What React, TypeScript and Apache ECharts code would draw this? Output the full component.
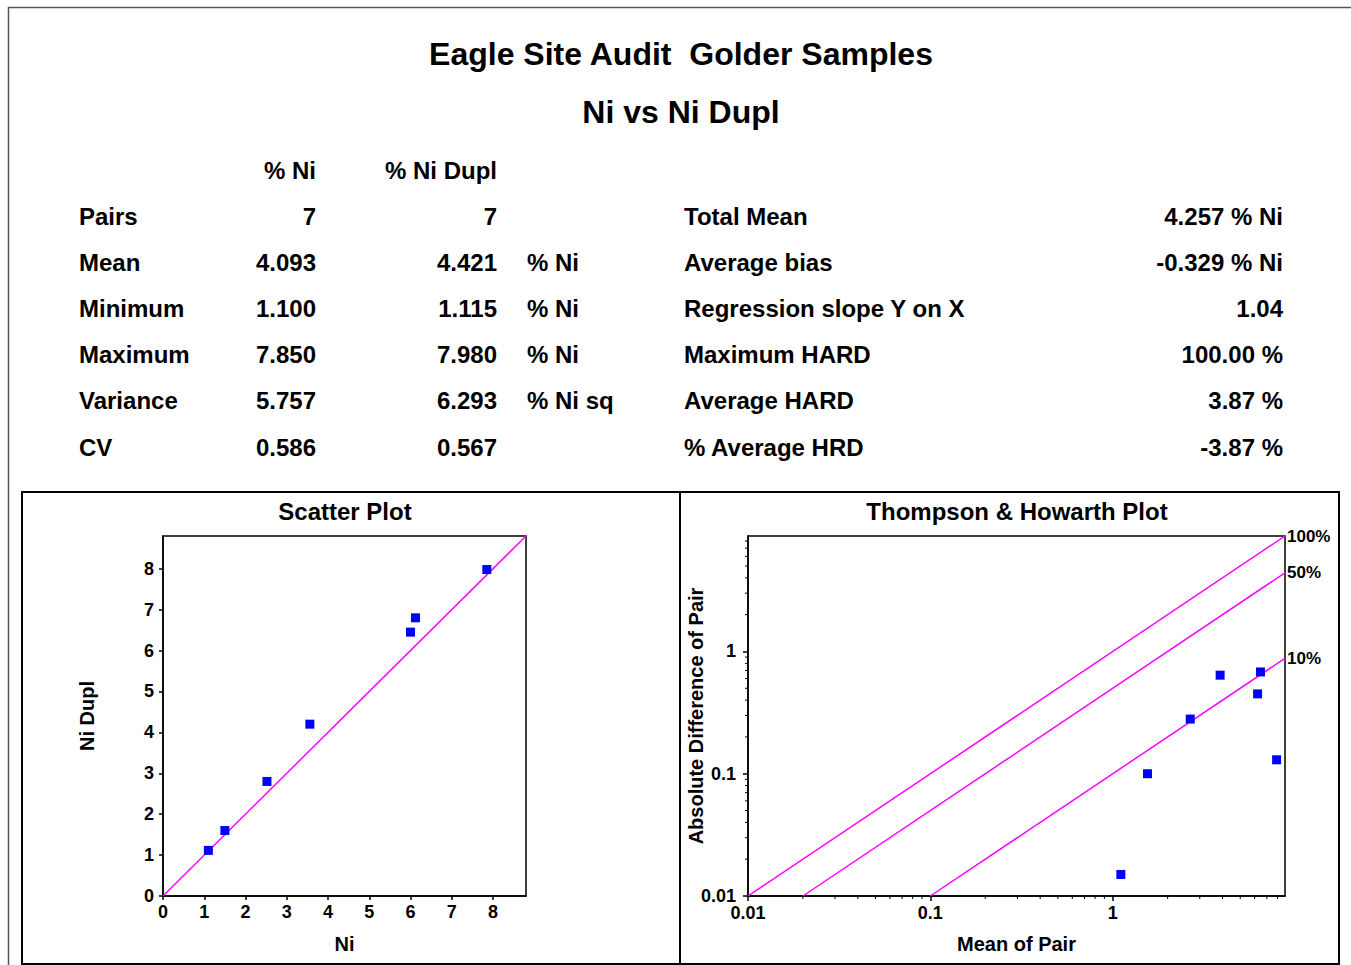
import React, { useEffect, useRef } from "react";
import * as echarts from "echarts";

// ---------- text content ----------
const mainTitle = "Eagle Site Audit  Golder Samples";
const subTitle = "Ni vs Ni Dupl";
const colHeaders = ["% Ni", "% Ni Dupl"];
const rowLabels = ["Pairs", "Mean", "Minimum", "Maximum", "Variance", "CV"];
const niStats = ["7", "4.093", "1.100", "7.850", "5.757", "0.586"];
const duplStats = ["7", "4.421", "1.115", "7.980", "6.293", "0.567"];
const unitLabels = ["", "% Ni", "% Ni", "% Ni", "% Ni sq", ""];
const summaryLabels = [
  "Total Mean",
  "Average bias",
  "Regression slope Y on X",
  "Maximum HARD",
  "Average HARD",
  "% Average HRD",
];
const summaryValues = ["4.257 % Ni", "-0.329 % Ni", "1.04", "100.00 %", "3.87 %", "-3.87 %"];

// ---------- scatter plot data ----------
const ni = [1.1, 1.5, 2.52, 3.56, 6.0, 6.12, 7.85];
const niDupl = [1.115, 1.6, 2.8, 4.2, 6.45, 6.8, 7.98];
const scatterTicks = [0, 1, 2, 3, 4, 5, 6, 7, 8];
const scatterMax = 8.8;
const oneToOne = [
  [0, 0],
  [8.8, 8.8],
];

// ---------- Thompson & Howarth data ----------
const pairMean = [1.1075, 1.55, 2.66, 3.88, 6.225, 6.46, 7.915];
const pairDiff = [0.015, 0.1, 0.28, 0.64, 0.45, 0.68, 0.13];
const thMin = 0.01;
const thMax = 8.8;
const thMajorTicks = [0.01, 0.1, 1];
const thMajorLabels = ["0.01", "0.1", "1"];
const thMinorTicks = [
  0.02, 0.03, 0.04, 0.05, 0.06, 0.07, 0.08, 0.09,
  0.2, 0.3, 0.4, 0.5, 0.6, 0.7, 0.8, 0.9,
  2, 3, 4, 5, 6, 7, 8,
];
const line100 = [
  [0.01, 0.01],
  [8.8, 8.8],
];
const line50 = [
  [0.02, 0.01],
  [8.8, 4.4],
];
const line10 = [
  [0.1, 0.01],
  [8.8, 0.88],
];
const precisionLabels = ["100%", "50%", "10%"];

const FONT = "Liberation Sans";
const font = (size: number) => `bold ${size}px "${FONT}"`;

function txt(text: string, x: number, y: number, size: number, align = "left") {
  return {
    type: "text",
    x,
    y,
    style: {
      text,
      font: font(size),
      fill: "#000",
      textAlign: align,
      textVerticalAlign: "middle",
    },
  };
}

export default function App() {
  const ref = useRef<HTMLDivElement>(null);

  useEffect(() => {
    if (!ref.current) return;
    const chart = echarts.init(ref.current, null, { renderer: "svg" });

    const rowY = (i: number) => 216 + i * 46.2;
    const graphics: any[] = [
      {
        type: "rect",
        shape: { x: 8.5, y: 7.5, width: 1400, height: 1000 },
        style: { fill: "none", stroke: "#555", lineWidth: 1.5 },
        silent: true,
      },
      {
        type: "rect",
        shape: { x: 22, y: 492, width: 658, height: 472 },
        style: { fill: "none", stroke: "#000", lineWidth: 2 },
        silent: true,
      },
      {
        type: "rect",
        shape: { x: 680, y: 492, width: 659, height: 472 },
        style: { fill: "none", stroke: "#000", lineWidth: 2 },
        silent: true,
      },
      txt(mainTitle, 681, 54, 32, "center"),
      txt(subTitle, 681, 112, 32, "center"),
      txt(colHeaders[0], 316, 170, 24, "right"),
      txt(colHeaders[1], 497, 170, 24, "right"),
      txt("Scatter Plot", 345, 511, 24, "center"),
      txt("Thompson & Howarth Plot", 1017, 511, 24, "center"),
    ];
    rowLabels.forEach((l, i) => {
      graphics.push(txt(l, 79, rowY(i), 24, "left"));
      graphics.push(txt(niStats[i], 316, rowY(i), 24, "right"));
      graphics.push(txt(duplStats[i], 497, rowY(i), 24, "right"));
      if (unitLabels[i]) graphics.push(txt(unitLabels[i], 527, rowY(i), 24, "left"));
      graphics.push(txt(summaryLabels[i], 684, rowY(i), 24, "left"));
      graphics.push(txt(summaryValues[i], 1283, rowY(i), 24, "right"));
    });

    const axisLineStyle = { color: "#000", width: 1.5 };
    const tickLabel = { color: "#000", fontFamily: FONT, fontWeight: "bold", fontSize: 18 };
    const nameStyle = { color: "#000", fontFamily: FONT, fontWeight: "bold", fontSize: 20 };
    const thLabelFormatter = (v: number) =>
      thMajorLabels[thMajorTicks.findIndex((t) => Math.abs(t - v) < 1e-9)] ?? "";

    const lineSeries = (data: number[][], label: string) => ({
      type: "line",
      xAxisIndex: 1,
      yAxisIndex: 1,
      data,
      symbol: "none",
      lineStyle: { color: "#ff00ff", width: 1.5 },
      endLabel: {
        show: true,
        formatter: label,
        distance: 2,
        color: "#000",
        fontFamily: FONT,
        fontWeight: "bold",
        fontSize: 17,
      },
      z: 2,
    });

    const option: any = {
      animation: false,
      backgroundColor: "#fff",
      graphic: graphics,
      grid: [
        {
          left: 163,
          top: 536,
          width: 363,
          height: 360,
          show: true,
          borderColor: "#000",
          borderWidth: 1.5,
          backgroundColor: "transparent",
        },
        {
          left: 748,
          top: 536,
          width: 537,
          height: 360,
          show: true,
          borderColor: "#000",
          borderWidth: 1.5,
          backgroundColor: "transparent",
        },
      ],
      xAxis: [
        {
          type: "value",
          gridIndex: 0,
          min: 0,
          max: scatterMax,
          name: "Ni",
          nameLocation: "middle",
          nameGap: 38,
          nameMoveOverlap: false,
          nameTextStyle: nameStyle,
          axisLine: { show: true, onZero: false, lineStyle: axisLineStyle },
          axisTick: { show: true, length: 4, customValues: scatterTicks, lineStyle: axisLineStyle },
          axisLabel: { ...tickLabel, margin: 7, customValues: scatterTicks },
          splitLine: { show: false },
        },
        {
          type: "log",
          gridIndex: 1,
          min: thMin,
          max: thMax,
          name: "Mean of Pair",
          nameLocation: "middle",
          nameGap: 38,
          nameMoveOverlap: false,
          nameTextStyle: nameStyle,
          axisLine: { show: true, onZero: false, lineStyle: axisLineStyle },
          axisTick: { show: true, length: 5, customValues: thMajorTicks, lineStyle: axisLineStyle },
          axisLabel: {
            ...tickLabel,
            margin: 8,
            customValues: thMajorTicks,
            formatter: thLabelFormatter,
          },
          splitLine: { show: false },
        },
      ],
      yAxis: [
        {
          type: "value",
          gridIndex: 0,
          min: 0,
          max: scatterMax,
          name: "Ni Dupl",
          nameLocation: "middle",
          nameGap: 66,
          nameMoveOverlap: false,
          nameTextStyle: nameStyle,
          axisLine: { show: true, onZero: false, lineStyle: axisLineStyle },
          axisTick: { show: true, length: 4, customValues: scatterTicks, lineStyle: axisLineStyle },
          axisLabel: { ...tickLabel, margin: 9, customValues: scatterTicks },
          splitLine: { show: false },
        },
        {
          type: "log",
          gridIndex: 1,
          min: thMin,
          max: thMax,
          name: "Absolute Difference of Pair",
          nameLocation: "middle",
          nameGap: 42,
          nameMoveOverlap: false,
          nameTextStyle: nameStyle,
          axisLine: { show: true, onZero: false, lineStyle: axisLineStyle },
          axisTick: { show: true, length: 5, customValues: thMajorTicks, lineStyle: axisLineStyle },
          axisLabel: {
            ...tickLabel,
            margin: 12,
            customValues: thMajorTicks,
            formatter: thLabelFormatter,
          },
          splitLine: { show: false },
        },
      ],
      series: [
        {
          type: "line",
          xAxisIndex: 0,
          yAxisIndex: 0,
          data: oneToOne,
          symbol: "none",
          lineStyle: { color: "#ff00ff", width: 1.5 },
          z: 2,
        },
        {
          type: "scatter",
          xAxisIndex: 0,
          yAxisIndex: 0,
          data: ni.map((x, i) => [x, niDupl[i]]),
          symbol: "rect",
          symbolSize: 9,
          itemStyle: { color: "#0000ff", opacity: 1 },
          z: 3,
        },
        lineSeries(line100, precisionLabels[0]),
        lineSeries(line50, precisionLabels[1]),
        lineSeries(line10, precisionLabels[2]),
        {
          type: "scatter",
          xAxisIndex: 1,
          yAxisIndex: 1,
          data: pairMean.map((m, i) => [m, pairDiff[i]]),
          symbol: "rect",
          symbolSize: 9,
          itemStyle: { color: "#0000ff", opacity: 1 },
          z: 3,
        },
        // minor ticks of the log x axis
        {
          type: "custom",
          xAxisIndex: 1,
          yAxisIndex: 1,
          silent: true,
          clip: false,
          data: thMinorTicks.map((v) => [v, thMin]),
          renderItem: (_p: any, api: any) => {
            const pt = api.coord([api.value(0), api.value(1)]);
            return {
              type: "line",
              shape: { x1: pt[0], y1: pt[1], x2: pt[0], y2: pt[1] + 3 },
              style: { stroke: "#000", lineWidth: 1 },
            };
          },
          z: 4,
        },
        // minor ticks of the log y axis
        {
          type: "custom",
          xAxisIndex: 1,
          yAxisIndex: 1,
          silent: true,
          clip: false,
          data: thMinorTicks.map((v) => [thMin, v]),
          renderItem: (_p: any, api: any) => {
            const pt = api.coord([api.value(0), api.value(1)]);
            return {
              type: "line",
              shape: { x1: pt[0] - 3, y1: pt[1], x2: pt[0], y2: pt[1] },
              style: { stroke: "#000", lineWidth: 1 },
            };
          },
          z: 4,
        },
      ],
    };

    chart.setOption(option);
    return () => chart.dispose();
  }, []);

  return (
    <div
      ref={ref}
      style={{ position: "absolute", left: 0, top: 0, width: 1351, height: 965, background: "#fff" }}
    />
  );
}
